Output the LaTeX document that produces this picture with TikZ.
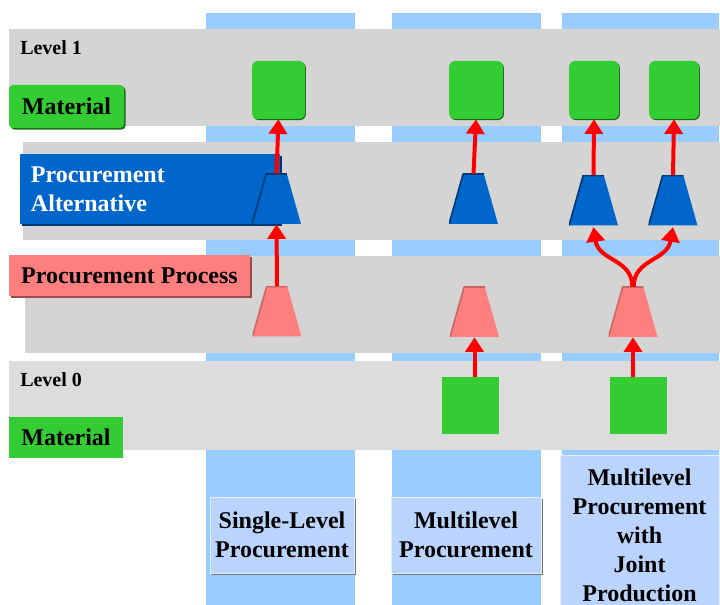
\documentclass[tikz,border=0pt]{standalone}
\usepackage{fontspec}
\setmainfont{Liberation Serif}
\usetikzlibrary{arrows.meta,shadows}
\definecolor{bandgray}{HTML}{D4D4D4}
\definecolor{bandlight}{HTML}{DCDCDC}
\definecolor{colblue}{HTML}{99CCFF}
\definecolor{lblblue}{HTML}{BBD4FE}
\definecolor{matgreen}{HTML}{33CC33}
\definecolor{altblue}{HTML}{0066CC}
\definecolor{procpink}{HTML}{FF7F7F}
\definecolor{arrred}{HTML}{FF0000}
\newcommand{\biglbl}{\fontsize{18}{21.75}\selectfont\bfseries}
\newcommand{\lvllbl}{\fontsize{15}{18}\selectfont\bfseries}
\tikzset{
  boxbase/.style={rectangle, inner sep=0pt, align=center, font=\biglbl},
  matbox/.style={boxbase, fill=matgreen, rounded corners=3pt,
    drop shadow={shadow xshift=1.2pt, shadow yshift=-1.2pt, fill=matgreen!55!black, opacity=1}},
  altbox/.style={boxbase, fill=altblue, text=white, align=left,
    drop shadow={shadow xshift=1.2pt, shadow yshift=-1.2pt, fill=altblue!55!black, opacity=1}},
  procbox/.style={boxbase, fill=procpink,
    drop shadow={shadow xshift=1.2pt, shadow yshift=-1.2pt, fill=procpink!60!black, opacity=1}},
  bottombox/.style={boxbase, fill=lblblue, draw=white!60!lblblue, line width=0.4pt,
    drop shadow={shadow xshift=1.2pt, shadow yshift=-1.2pt, fill=black!55, opacity=1}},
  bottomtext/.style={inner sep=0pt, align=center, font=\biglbl},
  matsq/.style={rectangle, inner sep=0pt, fill=matgreen, rounded corners=4.5pt,
    minimum height=43.5pt,
    drop shadow={shadow xshift=0.7pt, shadow yshift=-0.8pt, fill=matgreen!50!black, opacity=1}},
  matsqplain/.style={rectangle, inner sep=0pt, fill=matgreen, minimum width=42.75pt, minimum height=42.75pt},
  trap/.style n args={2}{rectangle, minimum width=36.75pt, minimum height=37.5pt, inner sep=0pt,
    path picture={
      \fill[#1] (path picture bounding box.south west) -- (path picture bounding box.south east)
        -- ([xshift=-10.6pt]path picture bounding box.north east)
        -- ([xshift=10.6pt]path picture bounding box.north west) -- cycle;
      \draw[#2, line width=1.2pt, line join=round]
        (path picture bounding box.south west)
        -- ([xshift=10.6pt]path picture bounding box.north west)
        -- ([xshift=-10.6pt]path picture bounding box.north east);
    }},
  alttrap/.style={trap={altblue}{altblue!55!black}},
  proctrap/.style={trap={procpink}{procpink!80!black}},
  redarrow/.style={draw=arrred, line width=3pt, -{Triangle[width=13.5pt,length=11pt]}}
}
\begin{document}
\begin{tikzpicture}[x=0.75pt,y=-0.75pt]
\useasboundingbox (0,0) rectangle (720,605);
% columns
\fill[colblue] (206,13) rectangle (355,605);
\fill[colblue] (392,13) rectangle (541,605);
\fill[colblue] (562,13) rectangle (719,605);
% bands
\fill[bandgray] (9,29) rectangle (720,126);
\fill[bandgray] (23,142) rectangle (720,240);
\fill[bandgray] (25,256) rectangle (720,353);
\fill[bandlight] (9,361) rectangle (720,450);
% level labels
\node[anchor=base west, inner sep=0pt, font=\lvllbl] (lv1) at (20,55) {Level 1};
\node[anchor=base west, inner sep=0pt, font=\lvllbl] (lv0) at (20,387) {Level 0};
% legend boxes
\node[matbox, minimum width=86.25pt, minimum height=32.25pt] (mat1) at (66.5,106.5) {Material};
\node[altbox, text width=178.5pt, inner xsep=8.25pt, minimum height=52.5pt] (alt) at (150,189) {Procurement\\Alternative};
\node[procbox, minimum width=180.75pt, minimum height=30.75pt] (proc) at (129.5,275.5) {Procurement Process};
\node[boxbase, fill=matgreen, minimum width=85.5pt, minimum height=30.75pt] (mat0) at (66,437.5) {Material};
% bottom labels
\node[bottombox, minimum width=108pt, minimum height=57pt] (lab1) at (282,535) {Single-Level\\Procurement};
\node[bottombox, minimum width=112.5pt, minimum height=57pt] (lab2) at (466,535) {Multilevel\\Procurement};
\node[bottombox, minimum width=119.25pt, minimum height=112.5pt] (lab3box) at (639.5,530) {};
\node[bottomtext] (lab3) at (639.5,535) {Multilevel\\Procurement\\with\\Joint\\Production};
% level 1 materials
\node[matsq, minimum width=39.75pt] (sqa) at (278.5,90) {};
\node[matsq, minimum width=40.5pt] (sqb) at (476,90) {};
\node[matsq, minimum width=37.5pt] (sqc) at (594,90) {};
\node[matsq, minimum width=37.5pt] (sqd) at (674,90) {};
% alternatives
\node[alttrap] (alta) at (276.5,199) {};
\node[alttrap] (altb) at (473.5,199) {};
\node[alttrap] (altc) at (593.5,200.5) {};
\node[alttrap] (altd) at (673,200.5) {};
% processes
\node[proctrap] (pra) at (277,311.5) {};
\node[proctrap] (prb) at (474.5,312) {};
\node[proctrap] (prc) at (633,312) {};
% level 0 materials
\node[matsqplain] (lsb) at (470.5,405.5) {};
\node[matsqplain] (lsc) at (638.5,405.5) {};
% arrows
\draw[redarrow] (alta.north) -- (sqa.south);
\draw[redarrow] (altb.north) -- (sqb.south);
\draw[redarrow] (altc.north) -- (sqc.south);
\draw[redarrow] (altd.north) -- (sqd.south);
\draw[redarrow] (pra.north) -- (alta.south);
\draw[redarrow] (lsb.north -| prb.south) -- (prb.south);
\draw[redarrow] (lsc.north -| prc.south) -- (prc.south);
\draw[redarrow] ([xshift=-0.5pt]prc.north) .. controls +(0,-28) and +(5,34) .. ([yshift=-1pt]altc.south);
\draw[redarrow] ([xshift=0.5pt]prc.north) .. controls +(0,-28) and +(-6,34) .. ([yshift=-1pt]altd.south);
\end{tikzpicture}
\end{document}
